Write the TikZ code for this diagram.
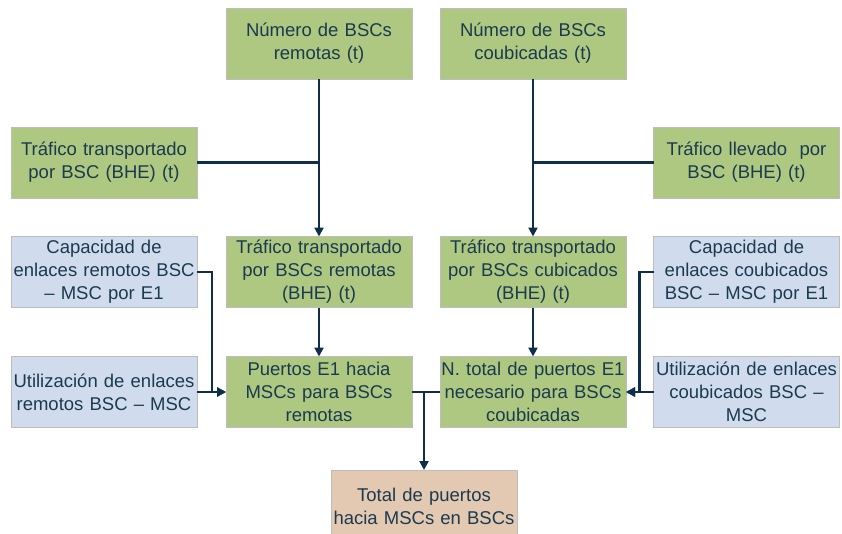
\documentclass[tikz,border=0pt]{standalone}
\usepackage{fontspec}
\setmainfont{Liberation Sans}
\usetikzlibrary{arrows.meta,positioning,calc}
\definecolor{gbox}{HTML}{AEC882}
\definecolor{bbox}{HTML}{D0DCEE}
\definecolor{tbox}{HTML}{E4C9B2}
\definecolor{bord}{HTML}{BDBDBD}
\definecolor{txt}{HTML}{1B3A50}
\definecolor{ln}{HTML}{0E2E4A}
\begin{document}
\begin{tikzpicture}[x=1pt,y=-1pt,
  box/.style={draw=bord,line width=0.8pt,minimum width=184pt,minimum height=71pt,
    inner sep=0pt,outer sep=0pt,text width=186pt,align=center,text=txt,
    font=\fontsize{18.5}{23}\selectfont},
  gb/.style={box,fill=gbox},
  bb/.style={box,fill=bbox},
  tb/.style={box,fill=tbox,minimum height=72pt},
  conn/.style={draw=ln,line width=2.2pt},
  arr/.style={conn,-{Triangle[length=9pt,width=9pt]}}]
\useasboundingbox (0,0) rectangle (842,533);
\fill[white] (0,0) rectangle (842,533);
\node[gb] (nbr) at (319,43.5) {Número de BSCs\\remotas (t)};
\node[gb] (nbc) at (533,43.5) {Número de BSCs\\coubicadas (t)};
\node[gb] (trb) at (104,162.5) {Tráfico transportado\\por BSC (BHE) (t)};
\node[gb] (tll) at (746.5,162.5) {Tráfico llevado\ \ por\\BSC (BHE) (t)};
\node[gb] (ttr) at (319,272) {Tráfico transportado\\por BSCs remotas\\(BHE) (t)};
\node[gb] (ttc) at (533,272) {Tráfico transportado\\por BSCs cubicados\\(BHE) (t)};
\node[bb] (capr) at (104,272) {Capacidad de\\enlaces remotos BSC\\– MSC por E1};
\node[bb] (capc) at (746.5,272) {Capacidad de\\enlaces coubicados\\BSC – MSC por E1};
\node[bb] (utr) at (104,392) {Utilización de enlaces\\remotos BSC – MSC};
\node[bb] (utc) at (746.5,392) {Utilización de enlaces\\coubicados BSC –\\MSC};
\node[gb] (pr) at (319,392) {Puertos E1 hacia\\MSCs para BSCs\\remotas};
\node[gb] (nt) at (533,392) {N. total de puertos E1\\necesario para BSCs\\coubicadas};
\node[tb] (tot) at (424,506) {Total de puertos\\hacia MSCs en BSCs};
% connectors
\draw[arr] (nbr.south) -- (ttr.north);
\draw[conn] (trb.east) -- (trb.east -| nbr.south);
\draw[arr] (nbc.south) -- (ttc.north);
\draw[conn] (tll.west) -- (tll.west -| nbc.south);
\draw[arr] (ttr.south) -- (pr.north);
\draw[arr] (ttc.south) -- (nt.north);
\draw[arr] (capr.east) -- ++(15,0) |- (pr.west);
\draw[arr] (utr.east) -- (pr.west);
\draw[arr] (capc.west) -- ++(-14,0) |- (nt.east);
\draw[arr] (utc.west) -- (nt.east);
\draw[conn] (pr.east) -- (nt.west);
\coordinate (jb) at (pr.east -| tot.north);
\draw[arr] (jb) -- (tot.north);
\end{tikzpicture}
\end{document}
